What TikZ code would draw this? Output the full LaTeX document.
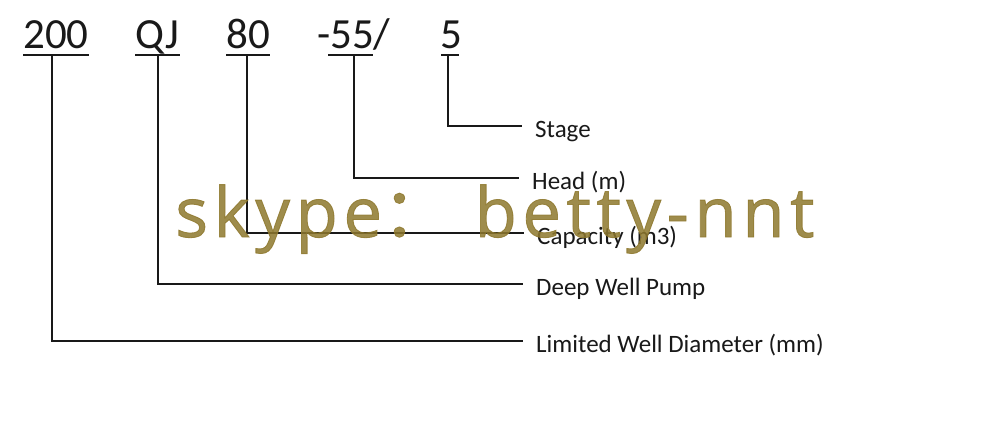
\documentclass[tikz,border=0pt]{standalone}
\usepackage{fontspec}
\setmainfont{Carlito}
\newfontfamily\wmfont[LetterSpace=8,FakeBold=1.2]{Open Sans}
\newfontfamily\cjk[FakeBold=1.2]{Noto Sans CJK SC}
\definecolor{wmcol}{RGB}{142,120,45}
\definecolor{ink}{RGB}{25,25,25}
\begin{document}
\begin{tikzpicture}[x=1pt,y=-1pt,
  top/.style={font=\fontsize{43}{43}\selectfont, inner sep=0pt, anchor=base west, text=ink},
  lab/.style={font=\fontsize{25}{25}\selectfont, inner xsep=13pt, inner ysep=0pt, anchor=base west, text=ink},
  conn/.style={line width=1.3pt, draw=ink},
  uline/.style={line width=2.6pt, draw=ink},
  wm/.style={font=\wmfont\fontsize{69}{69}\selectfont, inner sep=0pt, anchor=base west, text=wmcol, text opacity=0.85}]
\useasboundingbox[fill=white] (0,0) rectangle (1000,440);
% code parts
\node[top] (t200) at (23,48) {200};
\node[top] (tqj) at (135,48) {QJ};
\node[top] (t80) at (226,48) {80};
\node[top] (t55) at (317,48) {-55/};
\node[top] (t5) at (440,48) {5};
% underlines
\draw[uline] (23,55) -- (89,55);
\draw[uline] (135,55) -- (180,55);
\draw[uline] (226,55) -- (270,55);
\draw[uline] (328,55) -- (373,55);
\draw[uline] (441,55) -- (459,55);
% stem tops
\coordinate (s1) at (52,55);
\coordinate (s2) at (158,55);
\coordinate (s3) at (247,55);
\coordinate (s4) at (354,55);
\coordinate (s5) at (448,55);
% labels
\node[lab] (l5) at (522,137) {Stage};
\node[lab] (l4) at (519,189) {Head (m)};
\node[lab] (l3) at (524,244) {Capacity (m3)};
\node[lab] (l2) at (523,295) {Deep Well Pump};
\node[lab] (l1) at (523,352) {Limited Well Diameter (mm)};
% connectors
\draw[conn] (s5) |- ([yshift=11pt]l5.base west);
\draw[conn] (s4) |- ([yshift=11pt]l4.base west);
\draw[conn] (s3) |- ([yshift=11pt]l3.base west);
\draw[conn] (s2) |- ([yshift=11pt]l2.base west);
\draw[conn] (s1) |- ([yshift=11pt]l1.base west);
% watermark
\node[wm] (wmk) at (175,237) {skype{\cjk ：} betty-nnt};
\end{tikzpicture}
\end{document}
